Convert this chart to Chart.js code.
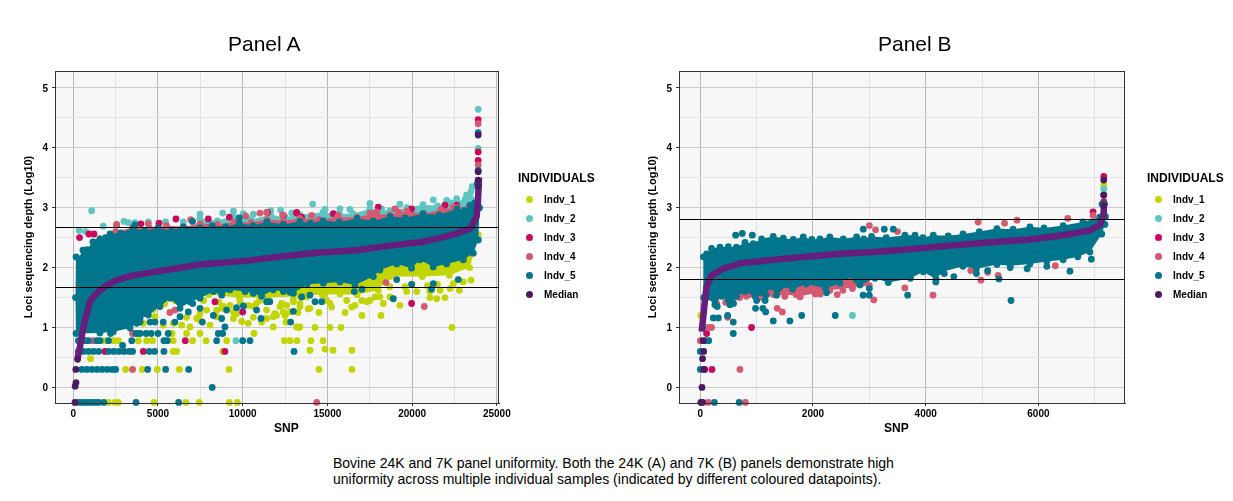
<!DOCTYPE html>
<html>
<head>
<meta charset="utf-8">
<script src="https://cdn.jsdelivr.net/npm/chart.js@4"></script>
<style>
  body { margin: 0; background: #fff; font-family: "Liberation Sans", Arial, sans-serif; color: #000; }
  canvas { position: absolute; top: 0; }
  .snp { position: absolute; top: 421px; font-size: 12px; font-weight: bold; }
  .title { position: absolute; top: 31px; font-size: 21px; line-height: 26px; }
  .legend { position: absolute; top: 171px; font-size: 10px; font-weight: bold; }
  .legend h4 { margin: 0 0 4px 0; font-size: 12px; line-height: 15px; }
  .legend div { position: relative; height: 19px; line-height: 19px; padding-left: 26px; }
  .legend i { position: absolute; left: 8px; top: 6px; width: 7px; height: 7px; border-radius: 50%; }
  #caption { position: absolute; left: 333px; top: 455px; font-size: 14px; line-height: 16px; white-space: nowrap; }
</style>
</head>
<body>
<canvas id="panelA" width="528" height="440" style="left:0"></canvas>
<canvas id="panelB" width="582" height="440" style="left:624px"></canvas>
<div class="title" style="left:228px">Panel A</div>
<div class="title" style="left:878px">Panel B</div>
<div class="snp" style="left:274px">SNP</div>
<div class="snp" style="left:884px">SNP</div>
<div class="legend" id="legendA" style="left:518px"></div>
<div class="legend" id="legendB" style="left:1147px"></div>
<div id="caption">Bovine 24K and 7K panel uniformity. Both the 24K (A) and 7K (B) panels demonstrate high<br>uniformity across multiple individual samples (indicated by different coloured datapoints).</div>

<script>
// names + colours for the legend
const individuals = ['Indv_1', 'Indv_2', 'Indv_3', 'Indv_4', 'Indv_5', 'Median'];
const colours = ['#c3d500', '#5fc5c2', '#c80a5e', '#d45a72', '#00758b', '#4c1a63'];
const medianLine = '#661e7c';

const xTicksA = [0, 2500, 5000, 7500, 10000, 12500, 15000, 17500, 20000, 22500, 25000];
const xTicksB = [0, 1000, 2000, 3000, 4000, 5000, 6000, 7000];
const yTicks = [0, 0.5, 1, 1.5, 2, 2.5, 3, 3.5, 4, 4.5, 5];

// thresholds
const hLinesA = [2.6685, 1.6673];
const hLinesB = [2.802, 1.8007];

// ---- Panel A ----
const a1Band = [[8000,1.55],[9800,1.5],[11500,1.5],[13400,1.52],[14700,1.55],[16750,1.55],[18000,1.62],[18700,1.85],[20600,1.85],[22200,1.87],[23400,2.0],[23850,2.47],[23900,2.55],[20000,2.2],[8000,1.9]];
const a2Band = [[7000,2.62],[7480,2.82],[8500,2.78],[9450,2.86],[10500,2.8],[11650,2.88],[12500,2.84],[13380,2.88],[14740,2.92],[15700,2.9],[16500,2.9],[17500,2.98],[18700,2.95],[19700,3.0],[20640,3.05],[21500,3.03],[22300,3.08],[23130,3.14],[23480,3.27],[23800,3.1],[23500,2.8],[7000,2.5]];
const a4Band = [[1580,2.48],[2500,2.6],[3520,2.67],[4500,2.65],[5500,2.7],[6500,2.68],[7480,2.73],[8500,2.72],[9500,2.76],[10500,2.75],[11430,2.8],[12400,2.78],[13380,2.82],[14500,2.8],[15600,2.84],[16750,2.84],[17700,2.9],[18700,2.88],[19700,2.94],[20700,2.9],[21700,2.97],[22650,3.0],[23400,3.03],[23500,2.7],[1580,2.3]];
const a5Band = [[160,0.9],[130,1.5],[160,2.18],[300,2.15],[570,2.29],[800,2.3],[1160,2.43],[1400,2.42],[1580,2.48],[1900,2.5],[2170,2.56],[2800,2.58],[3520,2.65],[4200,2.62],[5000,2.66],[5800,2.62],[6500,2.68],[7480,2.66],[8200,2.7],[9000,2.68],[9800,2.74],[10600,2.7],[11430,2.76],[12400,2.72],[13380,2.77],[14000,2.74],[14740,2.78],[15700,2.76],[16750,2.82],[17700,2.78],[18700,2.85],[19600,2.83],[20640,2.9],[21600,2.88],[22650,2.98],[23100,2.95],[23420,3.04],[23700,3.08],[23850,3.4],[23930,3.4],[23980,3.0],
  [23910,2.46],[23610,2.24],[23020,2.13],[22040,2.06],[21250,2.01],[20460,2.13],[19970,1.99],[19090,2.06],[18100,1.96],[17710,1.85],[16630,1.71],[15740,1.76],[14760,1.74],[13800,1.72],[12990,1.57],[12400,1.6],[11800,1.63],[11120,1.52],[10630,1.57],[10140,1.6],[9250,1.63],[8760,1.54],[8270,1.6],[7480,1.49],[6890,1.43],[6300,1.32],[5710,1.49],[5120,1.35],[4430,1.21],[3940,1.15],[3740,1.07],[3350,0.99],[2360,0.93],[1570,0.91]];
const aMedian = [[255,0.47],[330,0.6],[395,0.68],[540,0.92],[690,1.12],[985,1.43],[1300,1.55],[1576,1.62],[2000,1.71],[2560,1.79],[3530,1.87],[5500,1.96],[7480,2.05],[10430,2.12],[12790,2.2],[14500,2.25],[16730,2.29],[18800,2.37],[20640,2.43],[22000,2.52],[22630,2.57],[23420,2.65],[23810,2.85],[23890,3.12],[23950,3.5]];

const a1Dots = [[2070,-0.25],[2460,-0.25],[2660,-0.25],[4760,-0.25],[6650,-0.25],[7440,-0.25],[9210,-0.25],[9680,-0.25],
  [3090,0.3],[4070,0.3],[4960,0.3],[6260,0.3],[9190,0.3],[14500,0.3],[16450,0.3],[1020,0.48],
  [5900,0.6],[6100,0.6],[8820,0.6],[13970,0.62],[14860,0.64],[15330,0.62],[16450,0.62],
  [1870,0.78],[2360,0.78],[2660,0.78],[3840,0.78],[4330,0.78],[4680,0.78],[5900,0.78],[7040,0.78],[7840,0.78],[9050,0.78],[12460,0.78],[12790,0.78],[13200,0.78],[14030,0.78],[14740,0.78],
  [5830,0.9],[6690,0.9],[7480,0.9],[10670,0.9],
  [13320,1],[14270,1],[15150,1],[15800,1],[22350,1],[11800,1.01],[13380,1.01],[13180,1.01],[6890,1.01],[6400,1.04],[8070,1.04],[5310,1.04],[5900,1.07],[4130,1.07],[10330,1.07],[11120,1.09],[12560,1.09],[7480,1.12],[11410,1.15],[9450,1.15],[4820,1.18],[8460,1.18],[12000,1.2],[12500,1.2],[17040,1.2],[18160,1.2],[9640,1.23],[12790,1.26],[13260,1.25],[14500,1.25],[16040,1.25],[13970,1.32],[15250,1.34],[16430,1.34],[13870,1.31],[8860,1.35],[15150,1.4],[16630,1.37],[19280,1.37],[13380,1.4],[18300,1.4],[17020,1.45],[17510,1.45],[21450,1.48],[18100,1.51],[21050,1.5],[21940,1.5],[22790,1.62],[23480,1.79],
  [7000,1.5],[6500,1.55],[7700,1.45],[6000,1.45],[5400,1.4],[8600,1.42],[10800,1.4],[11000,1.45],[12300,1.4],[4700,1.3],
  [8460,1.29],[8760,1.32],[9250,1.37],[9450,1.26],[9840,1.43],[10330,1.37],[10630,1.35],[11410,1.29],[11900,1.23],[12200,1.35],[12600,1.37],[12990,1.43],[13380,1.35],[11800,1.18],[12400,1.26],[10630,1.17],[9940,1.1],[7480,1.23],[7870,1.29],[6690,1.17],[7280,1.15],
  [19680,1.6],[20270,1.6],[21050,1.6],[21650,1.62],[22240,1.65],[18690,1.51],[17810,1.51],[17320,1.43],[16140,1.45],[14950,1.45],[23020,1.76],[22430,1.73],[19580,1.68],[18690,1.68],[16720,1.6],[15740,1.56],[14760,1.54],[13770,1.51],[12990,1.48],[20000,1.72],[20900,1.7],[21500,1.72]];
const a2Dots = [[1080,2.95],[350,2.62],[730,2.6],[1770,2.69],[2990,2.77],[3250,2.75],[3640,2.75],[4430,2.76],[5450,2.76],[6490,2.76],[7480,2.89],[8820,2.91],[9450,2.94],[10040,2.9],[10630,2.89],[11650,2.95],[12240,2.96],[12890,2.91],
  [14130,3.06],[14860,2.97],[15740,2.98],[16330,2.97],[17510,3.07],[18200,2.98],[19280,3.06],[21250,3.13],[22040,3.12],[22630,3.15],[23220,3.21],[23550,3.35],
  [23900,4.64],[23900,3.99],[9600,0.78],[3800,0.9]];
const a3Dots = [[370,2.5],[925,2.56],[1220,2.56],[2560,2.71],[3990,2.73],[5060,2.74],[6060,2.81],[7970,2.81],[9210,2.84],[11470,2.92],[13190,2.92],[12400,2.87],
  [13480,2.84],[15350,2.9],[18000,3.01],[19970,2.98],[22630,3.04],[21940,3.04],[13180,2.91],
  [19970,1.4],[8360,1.43],[10000,1.26],[3780,1.26],[4130,1.23],[1970,1.15],[730,0.78],[6610,0.78],[1870,0.6],[4130,0.6],[8950,0.6],
  [23900,4.47],[23900,3.93],[23900,3.79]];
const a4Dots = [[2560,2.72],[4430,2.73],[6930,2.8],[10190,2.86],[11020,2.91],[11410,2.92],[12360,2.88],
  [14070,2.87],[15640,2.87],[17510,2.91],[17910,2.93],[18990,2.98],[19190,2.93],[22430,3.01],
  [18460,1.75],[20720,1.35],[6000,1.29],[5700,1.25],[3850,1.23],[2050,1.15],[1180,0.78],[3500,0.9],[3500,0.3],[14370,-0.25],
  [23900,4.4],[23900,3.71]];
const a5Dots = [[300,-0.25],[500,-0.25],[700,-0.25],[900,-0.25],[1100,-0.25],[1300,-0.25],[1500,-0.25],[1800,-0.25],[3700,-0.25],[6220,-0.25],[8200,0],
  [500,0.3],[800,0.3],[1100,0.3],[1400,0.3],[1700,0.3],[2000,0.3],[2300,0.3],[2500,0.3],[4390,0.3],[5450,0.3],[6810,0.3],
  [300,0.6],[600,0.6],[900,0.6],[1200,0.6],[1500,0.6],[2100,0.6],[2400,0.6],[2700,0.6],[3000,0.6],[3300,0.6],[3500,0.6],[4480,0.6],[4800,0.6],[5350,0.6],[13030,0.6],[2910,0.7],
  [300,0.78],[600,0.78],[900,0.78],[1400,0.78],[1580,0.78],[2080,0.78],[3450,0.78],[5350,0.78],[5550,0.78],[8460,0.78],[10000,0.78],[10430,0.78],
  [2200,0.9],[3700,0.9],[3940,0.9],[4300,0.9],[4600,0.9],[5000,0.9],[5600,0.9],[8560,0.9],[8820,0.9],
  [3940,1.09],[4530,1.09],[4820,1.09],[5310,1.09],[6000,1.09],[6300,1.18],[6790,1.26],[7050,1.4],[7480,1.32],[7620,1.09],[8270,1.2],[8950,1.01],[8760,1.15],[9050,1.29],[9640,1.33],[10040,1.36],[10820,1.29],[11080,1.15],[11410,1.43],[11600,1.43],[12990,1.27],[12830,1.09],
  [14270,1.43],[14660,1.43],[13970,1.54],[13480,1.51],[12790,1.59],[16590,1.6],[17040,1.64],[18890,1.48],[19090,1.8],[19970,1.72],[21150,1.64],[21250,1.73],[22730,1.8],
  [7040,2.77],[9800,2.83],[3640,2.71],[23900,4.25],[23900,3.62]];
const aMedianDots = [[100,-0.25],[160,0.08],[110,0.02],[255,0.47],[150,0.3],[23900,4.21],[23900,3.6],[23900,3.46],[23900,3.35]];

// ---- Panel B ----
const b4Band = [[250,1.5],[700,1.5],[1100,1.5],[1500,1.55],[1770,1.52],[2300,1.62],[3000,1.7],[3000,2.0],[250,2.0]];
const b5Band = [[60,1.5],[53,2.18],[112,2.23],[200,2.32],[349,2.34],[497,2.35],[640,2.34],[793,2.42],[940,2.4],[1088,2.48],[1295,2.52],[1473,2.49],[1650,2.47],[1828,2.51],[1980,2.47],[2123,2.48],[2300,2.51],[2537,2.48],[2774,2.51],[2900,2.48],[3040,2.52],[3300,2.5],[3632,2.54],[3810,2.54],[3950,2.5],[4135,2.54],[4400,2.53],[4662,2.56],[4950,2.6],[5265,2.65],[5550,2.64],[5850,2.68],[6100,2.66],[6440,2.7],[6790,2.76],[7090,2.84],[7130,3.06],[7175,3.06],[7190,2.85],
  [7180,2.72],[7125,2.56],[6914,2.26],[6700,2.18],[6440,2.13],[6150,2.1],[5850,2.06],[5500,2.03],[5265,2.05],[4900,1.98],[4662,2.02],[4300,1.93],[4182,1.81],[3957,1.93],[3732,1.82],[3336,1.75],[3100,1.82],[2833,1.71],[2774,1.79],[2580,1.85],[2478,1.74],[2224,1.65],[1887,1.73],[1638,1.64],[1532,1.71],[1355,1.54],[1236,1.68],[1165,1.54],[970,1.52],[790,1.6],[645,1.52],[526,1.38],[380,1.52],[260,1.38],[112,1.5]];
const bMedian = [[24,0.93],[53,1.18],[83,1.46],[112,1.68],[200,1.87],[408,1.98],[704,2.07],[1295,2.13],[1887,2.18],[2478,2.23],[3070,2.26],[3660,2.3],[4250,2.35],[5265,2.43],[5850,2.47],[6440,2.54],[6914,2.62],[7090,2.71],[7150,2.85],[7160,3.01]];

const b1Dots = [[10,1.2],[7160,3.37]];
const b2Dots = [[2700,1.2],[7160,3.31]];
const b3Dots = [[80,0.3],[207,0.3],[112,0.9],[910,1],[1800,1.65],[1770,1.6],[1830,1.62],[6970,2.93],[7160,3.52],[7160,3.1]];
const b4Dots = [[140,-0.25],[800,-0.25],[704,0.3],[0,0.78],[200,1],[140,1],[485,1.17],[1366,1.32],[1455,1.26],[290,1.4],[450,1.42],[600,1.5],[704,1.57],[820,1.52],[1000,1.6],[1300,1.55],[1500,1.52],[1770,1.51],[1700,1.55],[2040,1.56],[2130,1.56],[2430,1.55],[2530,1.62],[2700,1.65],[3080,1.46],[3630,1.66],[4130,1.54],[3000,2.7],[4930,2.76],[5620,2.79],[4980,1.79],[5285,1.87],[6520,2.82],[6970,2.87],[3110,2.63],[3500,2.6],[5400,2.74],[4800,1.95],[5100,1.92],[6300,2.03]];
const b5Dots = [[250,-0.25],[690,-0.25],[0,0.3],[0,0.6],[90,0.78],[150,0.78],[585,0.9],[40,1],[1295,1.11],[1590,1.11],[1800,1.2],[2395,1.2],[585,1.09],[485,1.2],[230,1.16],[320,1.16],[980,1.32],[1110,1.32],[1160,1.26],[627,2.54],[745,2.57],[923,2.54],[2892,2.64],[3265,2.64],[3425,2.64],[2890,1.54],[3000,1.54],[3000,1.65],[3680,1.54],[2240,1.58],[1150,1.45],[1000,1.45],[590,1.4],[500,1.45],[300,1.35],[4180,1.76],[5300,1.81],[5514,1.45],[6560,1.94],[6940,2.14],[4330,1.9],[4500,1.85],[4900,1.9],[5100,1.95],[5500,2.0],[5800,1.98],[6150,2.02],[7160,3.21]];
const bMedianDots = [[10,-0.25],[40,-0.25],[30,0],[60,0.3],[40,0.48],[60,0.6],[50,0.78],[7160,3.46],[7160,3.21],[7160,3.04]];

const toPoints = (pairs) => pairs.map((p) => ({ x: p[0], y: p[1] }));

function dots(pairs, colour) {
  return { type: 'scatter', data: toPoints(pairs), backgroundColor: colour, pointRadius: 3.4, borderWidth: 0, clip: 6 };
}

function band(pairs, colour) {
  // closed outline, filled, circles on the outline give the bumpy edge
  return { type: 'line', data: toPoints(pairs), fill: 'shape', showLine: true, borderWidth: 0, borderColor: colour, backgroundColor: colour, pointBackgroundColor: colour, pointRadius: 3.4, pointBorderWidth: 0, tension: 0, clip: 6 };
}

function hLine(y, xMin, xMax) {
  return { type: 'line', data: [{ x: xMin, y: y }, { x: xMax, y: y }], borderColor: '#000', borderWidth: 1, pointRadius: 0, fill: false };
}

function median(pairs) {
  return { type: 'line', data: toPoints(pairs), borderColor: medianLine, borderWidth: 6.5, pointRadius: 0, fill: false, tension: 0 };
}

const frame = {
  id: 'frame',
  beforeDraw(chart) {
    const { ctx, chartArea: c } = chart;
    ctx.fillStyle = '#f7f7f7';
    ctx.fillRect(c.left, c.top, c.width, c.height);
  },
  afterDraw(chart) {
    const { ctx, chartArea: c } = chart;
    ctx.strokeStyle = '#333';
    ctx.lineWidth = 1;
    ctx.strokeRect(c.left + 0.5, c.top + 0.5, c.width - 1, c.height);
  },
};

function makeChart(id, datasets, xTicks, xMin, xMax, xMajor, rightPad) {
  const tickFont = { family: 'Liberation Sans', size: 10, weight: 'bold' };
  // chart.js paints dataset 0 last, so flip it: later in the list = on top
  datasets.forEach((d, i) => { d.order = datasets.length - i; });
  return new Chart(document.getElementById(id), {
    type: 'scatter',
    data: { datasets },
    plugins: [frame],
    options: {
      responsive: false,
      animation: false,
      layout: { padding: { left: 0, right: rightPad, top: 71, bottom: 0 } },
      plugins: {
        legend: { display: false },
        tooltip: { enabled: false },
      },
      scales: {
        x: {
          type: 'linear', min: xMin, max: xMax,
          afterFit: (s) => { s.height = 37; },
          afterBuildTicks: (s) => { s.ticks = xTicks.map((v) => ({ value: v })); },
          ticks: {
            autoSkip: false, maxRotation: 0, color: '#000', font: tickFont, padding: 2,
            callback: (v) => (v % xMajor === 0 ? String(v) : ''),
          },
          grid: {
            color: (c) => (c.tick && c.tick.value % xMajor === 0 ? '#b8b8b8' : '#e2e2e2'),
            tickColor: (c) => (c.tick && c.tick.value % xMajor === 0 ? '#333' : 'rgba(0,0,0,0)'),
            tickLength: 3,
          },
          border: { color: '#333' },
        },
        y: {
          type: 'linear', min: -0.26, max: 5.28,
          afterFit: (s) => { s.width = 55; },
          afterBuildTicks: (s) => { s.ticks = yTicks.map((v) => ({ value: v })); },
          ticks: {
            autoSkip: false, color: '#000', font: tickFont, padding: 4, labelOffset: 1,
            callback: (v) => (Number.isInteger(v) ? String(v) : ''),
          },
          title: {
            display: true, text: 'Loci sequencing depth (Log10)', color: '#000',
            font: { family: 'Liberation Sans', size: 11, weight: 'bold' },
            padding: { top: 22, bottom: 0 },
          },
          grid: {
            color: (c) => (c.tick && Number.isInteger(c.tick.value) ? '#cccccc' : '#e4e4e4'),
            tickColor: (c) => (c.tick && Number.isInteger(c.tick.value) ? '#333' : 'rgba(0,0,0,0)'),
            tickLength: 3,
          },
          border: { color: '#333' },
        },
      },
    },
  });
}

makeChart('panelA', [
  band(a1Band, colours[0]), dots(a1Dots, colours[0]),
  band(a2Band, colours[1]), dots(a2Dots, colours[1]),
  dots(a3Dots, colours[2]),
  band(a4Band, colours[3]), dots(a4Dots, colours[3]),
  band(a5Band, colours[4]), dots(a5Dots, colours[4]),
  median(aMedian), dots(aMedianDots, colours[5]),
  hLine(hLinesA[0], -1080, 25130), hLine(hLinesA[1], -1080, 25130),
], xTicksA, -1080, 25130, 5000, 29);

makeChart('panelB', [
  dots(b1Dots, colours[0]), dots(b2Dots, colours[1]), dots(b3Dots, colours[2]),
  band(b4Band, colours[3]), dots(b4Dots, colours[3]),
  band(b5Band, colours[4]), dots(b5Dots, colours[4]),
  median(bMedian), dots(bMedianDots, colours[5]),
  hLine(hLinesB[0], -378, 7537), hLine(hLinesB[1], -378, 7537),
], xTicksB, -378, 7537, 2000, 81);

// legends
for (const id of ['legendA', 'legendB']) {
  let html = '<h4>INDIVIDUALS</h4>';
  individuals.forEach((name, i) => {
    html += '<div><i style="background:' + colours[i] + '"></i>' + name + '</div>';
  });
  document.getElementById(id).innerHTML = html;
}
</script>
</body>
</html>
